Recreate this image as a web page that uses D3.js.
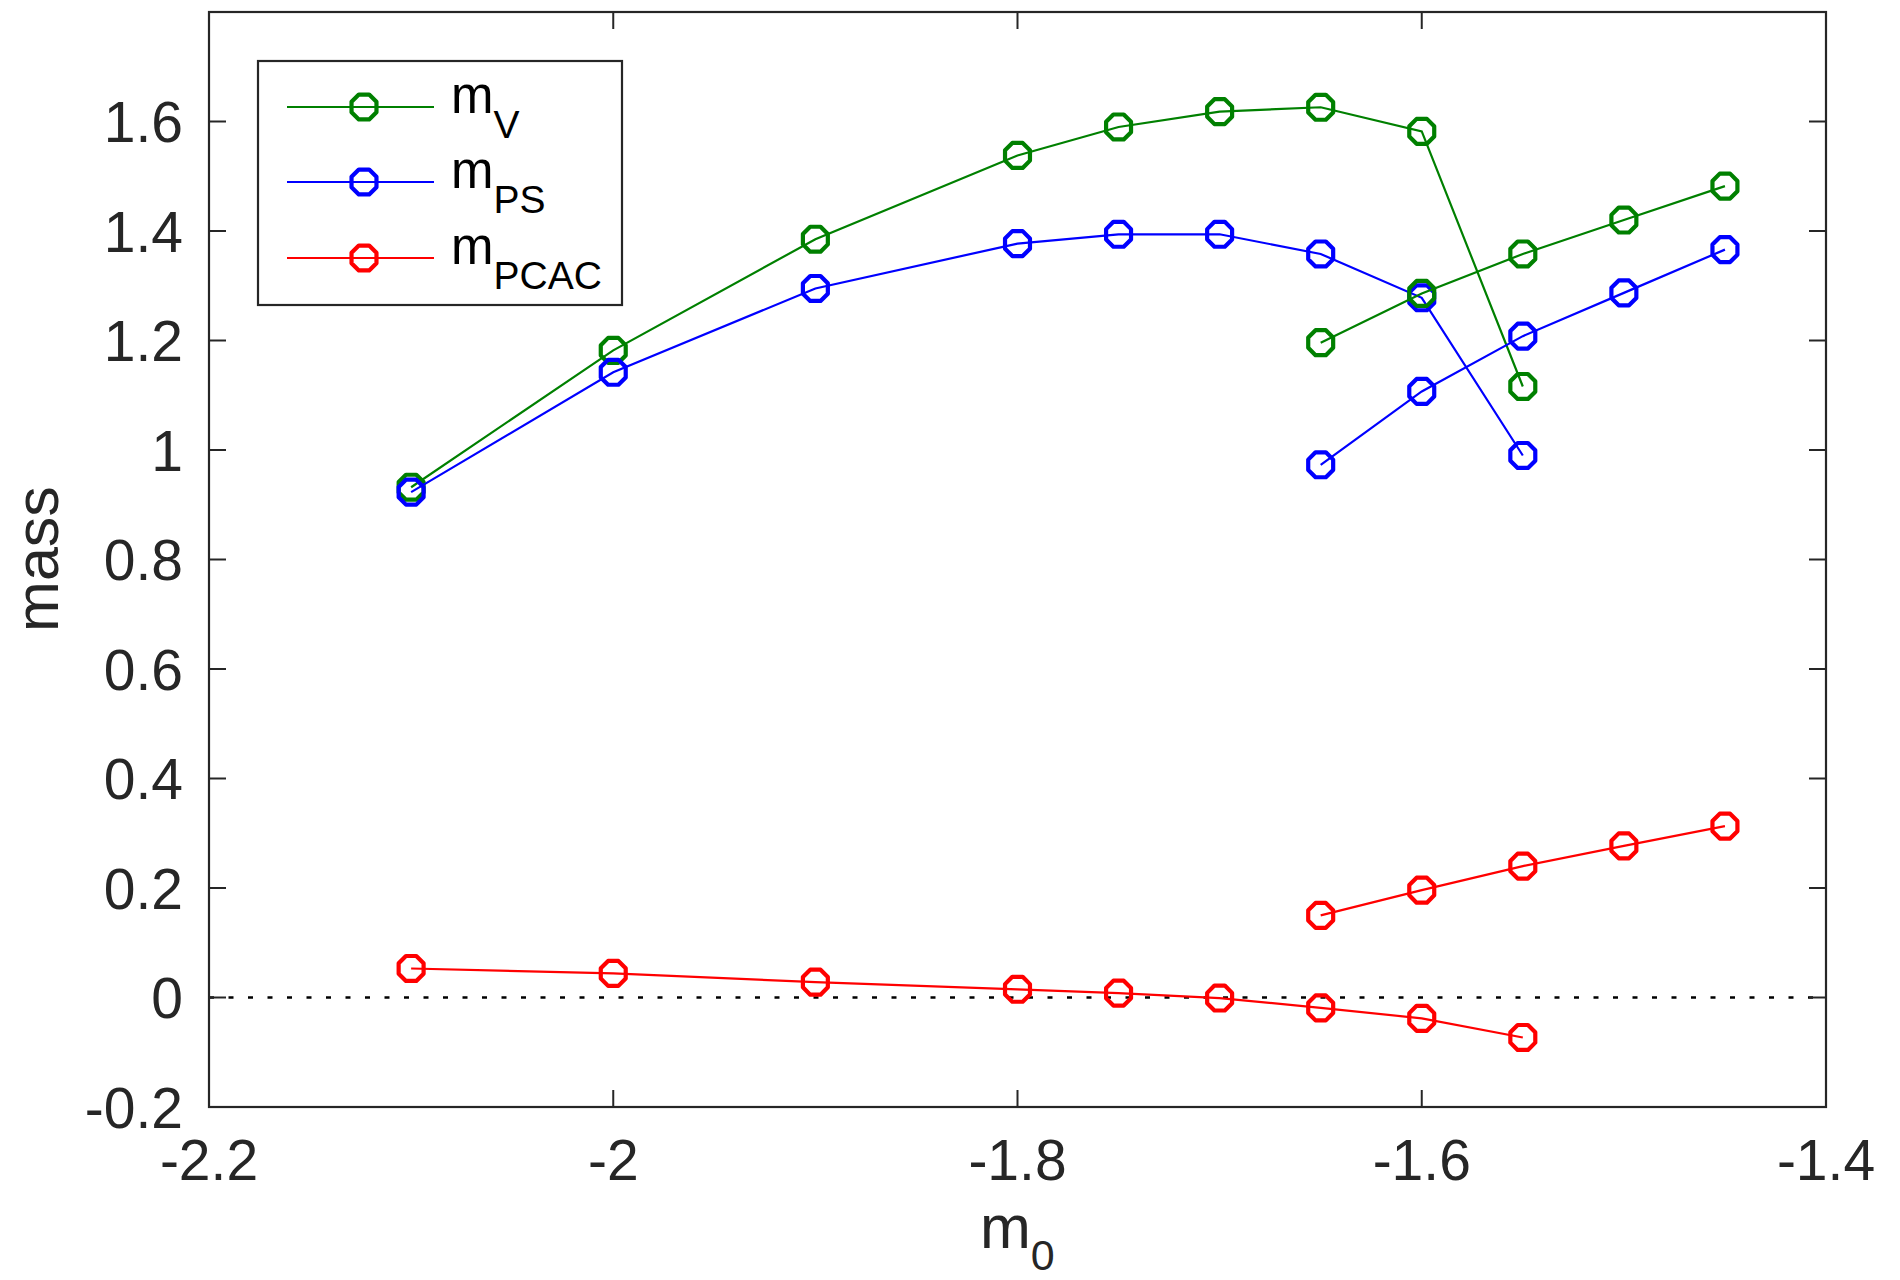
<!DOCTYPE html>
<html>
<head>
<meta charset="utf-8">
<script src="https://cdn.jsdelivr.net/npm/d3@7"></script>
<style>
  html, body { margin: 0; padding: 0; background: #fff; }
  svg { display: block; }
  text { font-family: "Liberation Sans", Arial, Helvetica, sans-serif; fill: #262626; }
</style>
</head>
<body>
<svg id="chart" width="1900" height="1280"></svg>
<script>
// ---------- data ----------
const m0Branch1 = [-2.1, -2.0, -1.9, -1.8, -1.75, -1.7, -1.65, -1.6, -1.55];
const m0Branch2 = [-1.65, -1.6, -1.55, -1.5, -1.45];

const mV1    = [0.932, 1.182, 1.385, 1.538, 1.590, 1.618, 1.626, 1.582, 1.116];
const mPS1   = [0.923, 1.142, 1.295, 1.377, 1.394, 1.394, 1.358, 1.278, 0.990];
const mPCAC1 = [0.053, 0.044, 0.028, 0.015, 0.008, -0.001, -0.019, -0.038, -0.073];

const mV2    = [1.196, 1.286, 1.358, 1.420, 1.482];
const mPS2   = [0.973, 1.107, 1.208, 1.287, 1.366];
const mPCAC2 = [0.150, 0.196, 0.240, 0.277, 0.313];

const xTicks = [-2.2, -2.0, -1.8, -1.6, -1.4];
const xTickLabels = ["-2.2", "-2", "-1.8", "-1.6", "-1.4"];
const yTicks = [-0.2, 0, 0.2, 0.4, 0.6, 0.8, 1.0, 1.2, 1.4, 1.6];
const yTickLabels = ["-0.2", "0", "0.2", "0.4", "0.6", "0.8", "1", "1.2", "1.4", "1.6"];

const seriesNames = ["V", "PS", "PCAC"];
const seriesColors = ["#008000", "#0000ff", "#ff0000"];

// ---------- layout ----------
const svg = d3.select("#chart");
const L = 209, R = 1826, T = 12, B = 1107;
const x = d3.scaleLinear().domain([-2.2, -1.4]).range([L, R]);
const y = d3.scaleLinear().domain([-0.2, 1.8]).range([B, T]);
const axisColor = "#262626";
const tickLen = 17;

// zero dotted line
svg.append("line")
  .attr("x1", L).attr("x2", R)
  .attr("y1", y(0)).attr("y2", y(0))
  .attr("stroke", "#000").attr("stroke-width", 2.5)
  .attr("stroke-dasharray", "5,14.5");

// data series
const groups = [
  { xs: m0Branch1, ys: mV1, c: 0 },
  { xs: m0Branch1, ys: mPS1, c: 1 },
  { xs: m0Branch1, ys: mPCAC1, c: 2 },
  { xs: m0Branch2, ys: mV2, c: 0 },
  { xs: m0Branch2, ys: mPS2, c: 1 },
  { xs: m0Branch2, ys: mPCAC2, c: 2 }
];
const line = d3.line().x(d => x(d[0])).y(d => y(d[1]));
const markerR = 13.5;
// octagon-like marker, as the reference's rendered circles
const marker = (cx, cy) => {
  const n = 8, pts = [];
  for (let k = 0; k < n; k++) {
    const a = Math.PI * 2 * k / n + Math.PI / 8;
    pts.push([cx + markerR * Math.cos(a), cy + markerR * Math.sin(a)]);
  }
  return "M" + pts.map(p => p.join(",")).join("L") + "Z";
};
groups.forEach(gr => {
  const pts = gr.xs.map((v, i) => [v, gr.ys[i]]);
  const g = svg.append("g");
  g.append("path").datum(pts)
    .attr("d", line).attr("fill", "none")
    .attr("stroke", seriesColors[gr.c]).attr("stroke-width", 2.2);
  g.selectAll("path.mk").data(pts).enter().append("path")
    .attr("class", "mk")
    .attr("d", d => marker(x(d[0]), y(d[1])))
    .attr("fill", "none")
    .attr("stroke", seriesColors[gr.c]).attr("stroke-width", 4.2)
    .attr("stroke-linejoin", "round");
});

// axes with inward ticks on all four sides
const axes = svg.append("g");
xTicks.forEach(t => {
  axes.append("line").attr("x1", x(t)).attr("x2", x(t)).attr("y1", B).attr("y2", B - tickLen)
    .attr("stroke", axisColor).attr("stroke-width", 2);
  axes.append("line").attr("x1", x(t)).attr("x2", x(t)).attr("y1", T).attr("y2", T + tickLen)
    .attr("stroke", axisColor).attr("stroke-width", 2);
});
yTicks.forEach(t => {
  axes.append("line").attr("x1", L).attr("x2", L + tickLen).attr("y1", y(t)).attr("y2", y(t))
    .attr("stroke", axisColor).attr("stroke-width", 2);
  axes.append("line").attr("x1", R).attr("x2", R - tickLen).attr("y1", y(t)).attr("y2", y(t))
    .attr("stroke", axisColor).attr("stroke-width", 2);
});
axes.append("rect").attr("x", L).attr("y", T).attr("width", R - L).attr("height", B - T)
  .attr("fill", "none").attr("stroke", axisColor).attr("stroke-width", 2.2);

// tick labels
xTicks.forEach((t, i) => {
  svg.append("text").attr("x", x(t)).attr("y", 1180)
    .attr("text-anchor", "middle").attr("font-size", 57).text(xTickLabels[i]);
});
yTicks.forEach((t, i) => {
  svg.append("text").attr("x", 183).attr("y", y(t))
    .attr("dy", "0.36em")
    .attr("text-anchor", "end").attr("font-size", 57).text(yTickLabels[i]);
});

// axis labels
const xl = svg.append("text").attr("x", 980).attr("y", 1248).attr("font-size", 61);
xl.append("tspan").text("m");
xl.append("tspan").attr("font-size", 43).attr("dy", 22).text("0");

svg.append("text")
  .attr("transform", "translate(58,559) rotate(-90)")
  .attr("text-anchor", "middle").attr("font-size", 61).text("mass");

// legend
const lg = svg.append("g");
lg.append("rect").attr("x", 258).attr("y", 61).attr("width", 364).attr("height", 244)
  .attr("fill", "#fff").attr("stroke", axisColor).attr("stroke-width", 2.2);
const rowY = [107, 182, 258];
seriesNames.forEach((n, i) => {
  lg.append("line").attr("x1", 287).attr("x2", 434).attr("y1", rowY[i]).attr("y2", rowY[i])
    .attr("stroke", seriesColors[i]).attr("stroke-width", 2.2);
  lg.append("path").attr("d", marker(364, rowY[i]))
    .attr("fill", "none").attr("stroke", seriesColors[i]).attr("stroke-width", 4.2)
    .attr("stroke-linejoin", "round");
  const t = lg.append("text").attr("x", 451).attr("y", rowY[i] + 6).attr("font-size", 51);
  t.append("tspan").text("m").style("fill", "#000");
  t.append("tspan").attr("font-size", 39).attr("dy", 25).style("fill", "#000").text(n);
});
</script>
</body>
</html>
